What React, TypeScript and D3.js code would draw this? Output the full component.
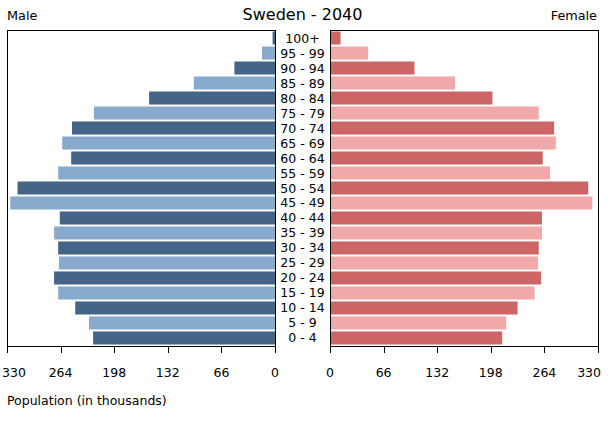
import React from "react";
import * as d3 from "d3";

const ageGroups = ["100+", "95 - 99", "90 - 94", "85 - 89", "80 - 84", "75 - 79", "70 - 74", "65 - 69", "60 - 64", "55 - 59", "50 - 54", "45 - 49", "40 - 44", "35 - 39", "30 - 34", "25 - 29", "20 - 24", "15 - 19", "10 - 14", "5 - 9", "0 - 4"];
const maleValues = [3, 16, 50, 100, 155, 223, 250, 262, 251, 267, 317, 326, 265, 272, 267, 266, 272, 267, 246, 229, 224];
const femaleValues = [13, 47, 104, 154, 200, 257, 276, 278, 262, 271, 318, 323, 261, 261, 257, 256, 260, 252, 231, 217, 212];
const tickValues = [0, 66, 132, 198, 264, 330];

const W = 610, H = 425;
const FONT = "DejaVu Sans, sans-serif";
const top = 30, bottom = 346;
const leftX0 = 7, leftX1 = 275, rightX0 = 330, rightX1 = 598;
const maleDark = "#446488", maleLight = "#88aacc";
const femDark = "#cc6666", femLight = "#f0a8a8";

export default function App() {
  const y = d3.scaleBand<string>().domain(ageGroups).range([top, bottom]).paddingInner(0.13).paddingOuter(0.1);
  const xm = d3.scaleLinear().domain([0, 330]).range([leftX1, leftX0]);
  const xf = d3.scaleLinear().domain([0, 330]).range([rightX0, rightX1]);
  const cx = (leftX1 + rightX0) / 2;
  return (
    <svg width={W} height={H} style={{ position: "absolute", left: 0, top: 0, background: "#fff" }} fontFamily={FONT}>
      <rect x={0} y={0} width={W} height={H} fill="#fff" />
      <text x={cx} y={20} textAnchor="middle" fontSize={16}>Sweden - 2040</text>
      <text x={7} y={20} fontSize={12.8}>Male</text>
      <text x={597} y={20} fontSize={12.8} textAnchor="end">Female</text>
      {ageGroups.map((g, i) => (
        <rect key={"m" + g} x={xm(maleValues[i])} y={y(g)} width={xm(0) - xm(maleValues[i])} height={y.bandwidth()} fill={i % 2 === 0 ? maleDark : maleLight} />
      ))}
      {ageGroups.map((g, i) => (
        <rect key={"f" + g} x={xf(0)} y={y(g)} width={xf(femaleValues[i]) - xf(0)} height={y.bandwidth()} fill={i % 2 === 0 ? femDark : femLight} />
      ))}
      {ageGroups.map((g) => (
        <text key={"l" + g} x={cx} y={(y(g) as number) + y.bandwidth() / 2} dy="0.36em" textAnchor="middle" fontSize={12.5}>{g}</text>
      ))}
      <rect x={leftX0 + 0.5} y={top + 0.5} width={leftX1 - leftX0} height={bottom - top} fill="none" stroke="#000" />
      <rect x={rightX0 + 0.5} y={top + 0.5} width={rightX1 - rightX0} height={bottom - top} fill="none" stroke="#000" />
      {tickValues.map((t) => (
        <g key={"tm" + t}>
          <line x1={Math.round(xm(t)) + 0.5} x2={Math.round(xm(t)) + 0.5} y1={bottom} y2={bottom + 7} stroke="#000" />
          {t === 330 ? (
            <text x={2} y={377} textAnchor="start" fontSize={12.5}>{t}</text>
          ) : (
            <text x={xm(t)} y={377} textAnchor="middle" fontSize={12.5}>{t}</text>
          )}
        </g>
      ))}
      {tickValues.map((t) => (
        <g key={"tf" + t}>
          <line x1={Math.round(xf(t)) + 0.5} x2={Math.round(xf(t)) + 0.5} y1={bottom} y2={bottom + 7} stroke="#000" />
          {t === 330 ? (
            <text x={601} y={377} textAnchor="end" fontSize={12.5}>{t}</text>
          ) : (
            <text x={xf(t)} y={377} textAnchor="middle" fontSize={12.5}>{t}</text>
          )}
        </g>
      ))}
      <text x={7} y={405} fontSize={12.5}>Population (in thousands)</text>
    </svg>
  );
}
